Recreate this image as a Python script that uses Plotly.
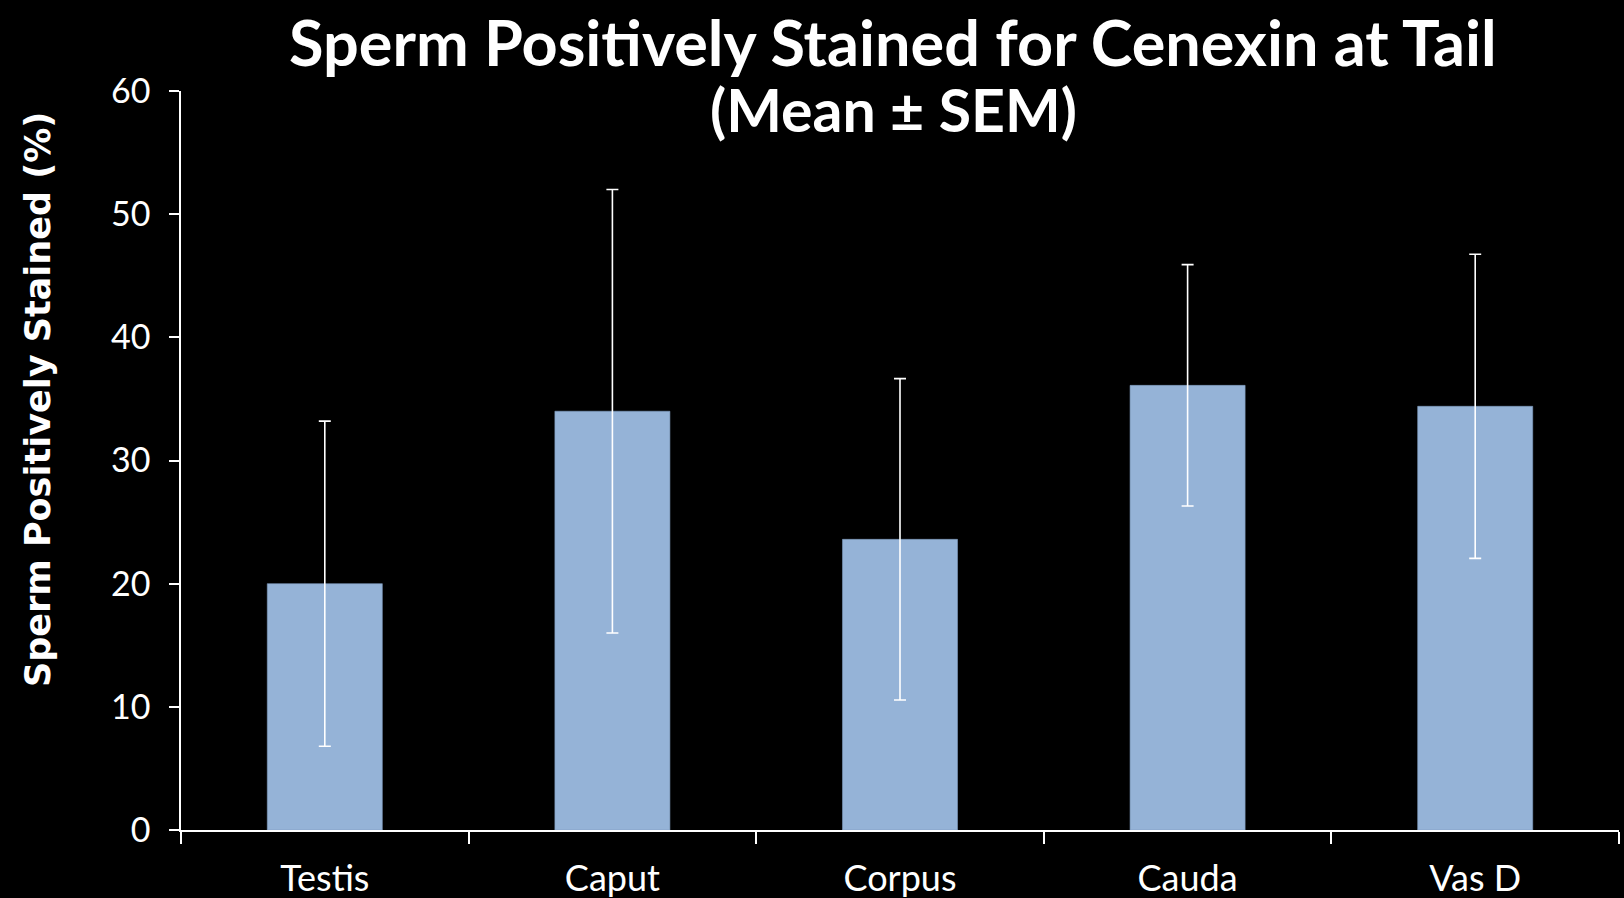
import plotly.graph_objects as go

# Staining data by tissue region
regions = ["Testis", "Caput", "Corpus", "Cauda", "Vas D"]
mean_pct = [20.0, 34.0, 23.6, 36.1, 34.4]
sem_pct = [13.2, 18.0, 13.05, 9.8, 12.35]
y_ticks = [0, 10, 20, 30, 40, 50, 60]

BAR_COLOR = "#95B3D7"
FONT = "Lato"

fig = go.Figure(
    go.Bar(
        x=regions,
        y=mean_pct,
        marker=dict(color=BAR_COLOR, line=dict(color="#7f9cc0", width=0.6)),
        error_y=dict(
            type="data",
            array=sem_pct,
            visible=True,
            color="white",
            thickness=1.6,
            width=6,
        ),
        width=0.4,
    )
)

fig.update_layout(
    width=1624,
    height=898,
    paper_bgcolor="black",
    plot_bgcolor="black",
    margin=dict(l=181, r=5, t=91, b=68, autoexpand=False),
    showlegend=False,
    font=dict(family=FONT, color="white"),
)

fig.update_xaxes(
    automargin=False,
    showline=True,
    linecolor="white",
    linewidth=2,
    ticks="outside",
    tickson="boundaries",
    ticklen=12,
    tickwidth=1.5,
    tickcolor="white",
    tickfont=dict(size=36, color="white", family=FONT),
    ticklabelstandoff=16,
    showgrid=False,
    zeroline=False,
)

fig.update_yaxes(
    automargin=False,
    range=[0, 60],
    tickvals=y_ticks,
    showline=True,
    linecolor="white",
    linewidth=1.5,
    ticks="outside",
    ticklen=10,
    tickwidth=1.5,
    tickcolor="white",
    tickfont=dict(size=34, color="white", family=FONT),
    ticklabelstandoff=12,
    showgrid=False,
    zeroline=False,
)

# Two-line bold title
fig.add_annotation(
    text="<b>Sperm Positively Stained for Cenexin at Tail</b>",
    xref="paper", yref="paper", x=(893 - 181) / 1438, y=1 + (91 - 42) / 739,
    xanchor="center", yanchor="middle", showarrow=False,
    font=dict(size=63, color="white", family=FONT),
)
fig.add_annotation(
    text="<b>(Mean ± SEM)</b>",
    xref="paper", yref="paper", x=(893 - 181) / 1438, y=1 + (91 - 110) / 739,
    xanchor="center", yanchor="middle", showarrow=False,
    font=dict(size=59, color="white", family=FONT),
)

# Rotated y-axis title
fig.add_annotation(
    text="<b>Sperm Positively Stained (%)</b>",
    xref="paper", yref="paper", x=-(181 - 38) / 1438, y=(830 - 400) / 739,
    xanchor="center", yanchor="middle", textangle=-90, showarrow=False,
    font=dict(size=35, color="white", family="DejaVu Sans"),
)

fig.write_html("out.html")
